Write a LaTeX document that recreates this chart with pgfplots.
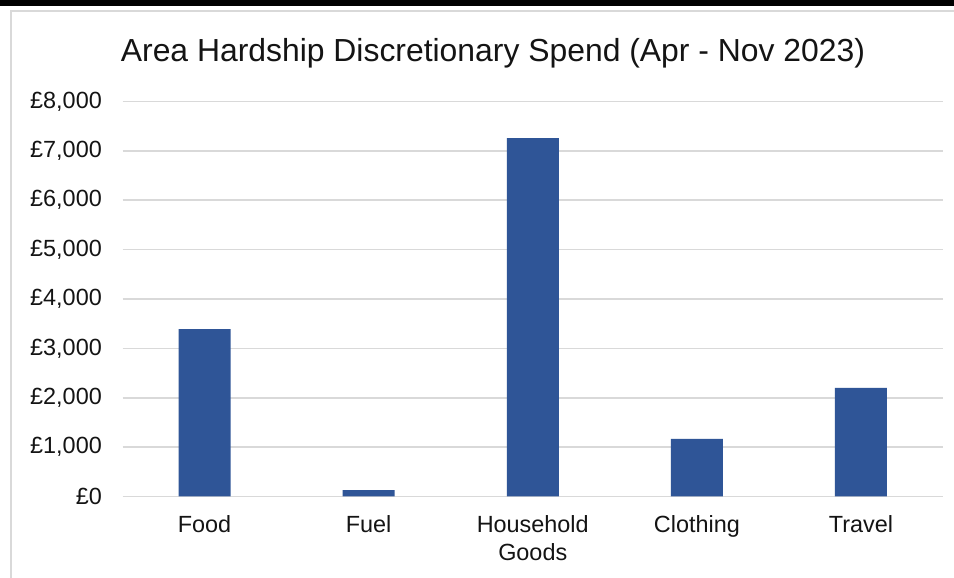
\documentclass[border=0pt]{standalone}
\usepackage{fontspec}
\setmainfont{Liberation Sans}
\usepackage{pgfplots}
\pgfplotsset{compat=1.18}
\definecolor{barblue}{RGB}{47,85,151}
\definecolor{gridgray}{RGB}{217,217,217}
\definecolor{txt}{RGB}{20,20,20}
\begin{document}
\begin{tikzpicture}[x=1bp,y=1bp]
\useasboundingbox (0,0) rectangle (954,578);
\fill[white] (0,0) rectangle (954,578);
\fill[black] (0,572) rectangle (954,578);
\draw[gridgray, line width=2bp] (11,0) -- (11,567) -- (954,567);
\node[anchor=base, font=\fontsize{32}{38}\selectfont, text=txt, inner sep=0pt] at (493,516) {Area Hardship Discretionary Spend (Apr - Nov 2023)};
\begin{axis}[
  at={(122.5bp,81.5bp)}, anchor=south west,
  scale only axis, width=820.5bp, height=395bp,
  xmin=-0.5, xmax=4.5, ymin=0, ymax=8000,
  axis line style={draw=none},
  major tick length=0pt,
  xtick={0,1,2,3,4},
  xticklabels={Food,Fuel,{Household\\Goods},Clothing,Travel},
  ytick={0,1000,...,8000},
  ymajorgrids, grid style={gridgray, line width=1.6bp},
  /pgf/number format/assume math mode=true,
  /pgf/number format/1000 sep={,},
  scaled y ticks=false,
  yticklabel={£\pgfmathprintnumber{\tick}},
  yticklabel style={anchor=east, inner sep=0pt, xshift=-20.5bp, font=\fontsize{23.5}{28}\selectfont, text=txt},
  xticklabel style={anchor=north, align=center, inner sep=0pt, yshift=-18.5bp, font=\fontsize{23.5}{28}\selectfont, text=txt},
  ybar, bar width=52bp, bar shift=0pt,
  axis on top=false,
]
\addplot[fill=barblue, draw=none] coordinates {(0,3390) (1,130) (2,7260) (3,1165) (4,2200)};
\end{axis}
\end{tikzpicture}
\end{document}
